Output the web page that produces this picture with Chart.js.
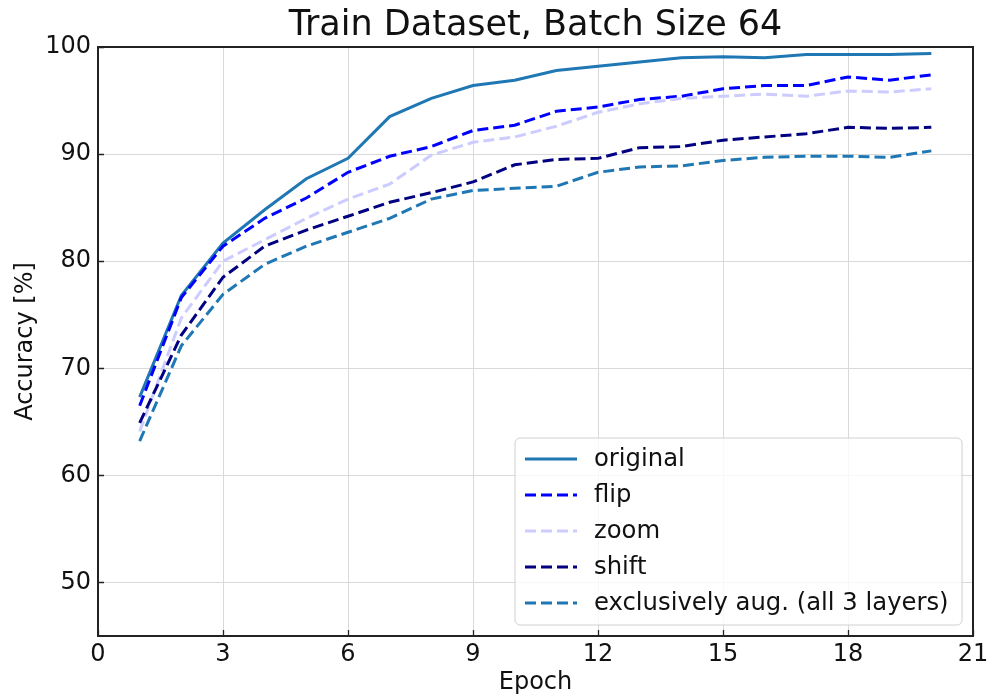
<!DOCTYPE html>
<html>
<head>
<meta charset="utf-8">
<script src="https://cdn.jsdelivr.net/npm/chart.js@4.4.1/dist/chart.umd.min.js"></script>
<style>
  html, body { margin: 0; padding: 0; background: #ffffff; }
  canvas { display: block; }
</style>
</head>
<body>
<canvas id="c" width="989" height="697"></canvas>
<script>
const epochs = [1,2,3,4,5,6,7,8,9,10,11,12,13,14,15,16,17,18,19,20];
const original  = [67.3, 76.8, 81.7, 84.8, 87.7, 89.6, 93.5, 95.2, 96.4, 96.9, 97.8, 98.2, 98.6, 99.0, 99.1, 99.0, 99.3, 99.3, 99.3, 99.4];
const flip      = [66.5, 76.6, 81.4, 84.0, 85.9, 88.3, 89.8, 90.7, 92.2, 92.7, 94.0, 94.4, 95.1, 95.4, 96.1, 96.4, 96.4, 97.2, 96.9, 97.4];
const zoom      = [64.1, 74.7, 80.0, 82.0, 84.0, 85.8, 87.2, 89.9, 91.1, 91.6, 92.6, 93.9, 94.7, 95.2, 95.4, 95.6, 95.4, 95.9, 95.8, 96.1];
const shift     = [64.9, 73.1, 78.5, 81.4, 82.9, 84.2, 85.5, 86.4, 87.4, 89.0, 89.5, 89.6, 90.6, 90.7, 91.3, 91.6, 91.9, 92.5, 92.4, 92.5];
const exclusive = [63.2, 72.1, 76.9, 79.7, 81.4, 82.7, 84.0, 85.8, 86.6, 86.8, 87.0, 88.3, 88.8, 88.9, 89.4, 89.7, 89.8, 89.8, 89.7, 90.3];
const seriesLabels = ["original", "flip", "zoom", "shift", "exclusively aug. (all 3 layers)"];
const xTicks = [0, 3, 6, 9, 12, 15, 18, 21];
const yTicks = [50, 60, 70, 80, 90, 100];

const FONT = "'DejaVu Sans', 'Liberation Sans', sans-serif";
const pts = arr => arr.map((v, i) => ({ x: epochs[i], y: v }));

const styles = [
  { color: "#1f77b4", dash: [] },
  { color: "#0000ff", dash: [11, 5] },
  { color: "#ccccff", dash: [11, 5] },
  { color: "#000080", dash: [11, 5] },
  { color: "#1f77b4", dash: [11, 5] }
];
const seriesData = [original, flip, zoom, shift, exclusive];

const datasets = seriesData.map((arr, i) => ({
  label: seriesLabels[i],
  data: pts(arr),
  borderColor: styles[i].color,
  backgroundColor: styles[i].color,
  borderDash: styles[i].dash,
  borderWidth: 3,
  pointRadius: 0,
  tension: 0,
  fill: false,
  order: seriesData.length - i
}));

const framePlugin = {
  id: "frame",
  afterDatasetsDraw(chart) {
    const ctx = chart.ctx;
    const a = chart.chartArea;
    const xs = chart.scales.x, ys = chart.scales.y;
    ctx.save();
    ctx.strokeStyle = "#222222";
    ctx.lineWidth = 1.3;
    ctx.beginPath();
    xs.ticks.forEach(t => {
      const px = Math.round(xs.getPixelForValue(t.value)) + 0.5;
      ctx.moveTo(px, a.bottom);
      ctx.lineTo(px, a.bottom - 6);
    });
    ys.ticks.forEach(t => {
      const py = Math.round(ys.getPixelForValue(t.value)) + 0.5;
      ctx.moveTo(a.left, py);
      ctx.lineTo(a.left + 6, py);
    });
    ctx.stroke();
    ctx.lineWidth = 2;
    ctx.strokeRect(a.left, a.top, a.right - a.left, a.bottom - a.top);

    // legend box
    const lx = 515, ly = 438, lw = 447, lh = 187, r = 5;
    ctx.beginPath();
    ctx.moveTo(lx + r, ly);
    ctx.lineTo(lx + lw - r, ly);
    ctx.arcTo(lx + lw, ly, lx + lw, ly + r, r);
    ctx.lineTo(lx + lw, ly + lh - r);
    ctx.arcTo(lx + lw, ly + lh, lx + lw - r, ly + lh, r);
    ctx.lineTo(lx + r, ly + lh);
    ctx.arcTo(lx, ly + lh, lx, ly + lh - r, r);
    ctx.lineTo(lx, ly + r);
    ctx.arcTo(lx, ly, lx + r, ly, r);
    ctx.closePath();
    ctx.fillStyle = "rgba(255,255,255,0.8)";
    ctx.fill();
    ctx.strokeStyle = "#d0d0d0";
    ctx.lineWidth = 1;
    ctx.stroke();

    chart.data.datasets.forEach((ds, i) => {
      const y = ly + 21 + i * 36;
      ctx.beginPath();
      ctx.setLineDash(ds.borderDash || []);
      ctx.strokeStyle = ds.borderColor;
      ctx.lineWidth = ds.borderWidth;
      ctx.moveTo(525, y);
      ctx.lineTo(577, y);
      ctx.stroke();
      ctx.setLineDash([]);
      ctx.fillStyle = "#111111";
      ctx.font = "24.3px " + FONT;
      ctx.textAlign = "left";
      ctx.textBaseline = "middle";
      ctx.fillText(ds.label, 594, y + 1);
    });
    ctx.restore();
  }
};

new Chart(document.getElementById("c"), {
  type: "line",
  data: { datasets },
  plugins: [framePlugin],
  options: {
    responsive: false,
    animation: false,
    devicePixelRatio: 1,
    layout: { padding: { left: 0, right: 16, top: 0, bottom: 0 } },
    plugins: {
      legend: { display: false },
      tooltip: { enabled: false },
      title: {
        display: true,
        fullSize: false,
        text: "Train Dataset, Batch Size 64",
        color: "#111111",
        font: { family: FONT, size: 35, weight: "normal" },
        padding: { top: 5, bottom: 0 }
      }
    },
    scales: {
      x: {
        type: "linear",
        min: 0, max: 21,
        afterBuildTicks: s => { s.ticks = xTicks.map(v => ({ value: v })); },
        afterFit: s => { s.height = 61; s.paddingLeft = 0; s.paddingRight = 0; },
        grid: { color: "#d9d9d9", lineWidth: 1, drawTicks: false },
        border: { display: false },
        ticks: { color: "#111111", font: { family: FONT, size: 24 }, padding: 4, maxRotation: 0, autoSkip: false },
        title: { display: true, text: "Epoch", color: "#111111", font: { family: FONT, size: 24 }, padding: { top: 0, bottom: 0 } }
      },
      y: {
        type: "linear",
        min: 45, max: 100,
        afterBuildTicks: s => { s.ticks = yTicks.map(v => ({ value: v })); },
        afterFit: s => { s.width = 98; s.paddingTop = 0; s.paddingBottom = 0; },
        grid: { color: "#d9d9d9", lineWidth: 1, drawTicks: false },
        border: { display: false },
        ticks: { color: "#111111", font: { family: FONT, size: 24 }, padding: 7, autoSkip: false },
        title: { display: true, text: "Accuracy [%]", color: "#111111", font: { family: FONT, size: 24 }, padding: { top: 11, bottom: 0 } }
      }
    }
  }
});
</script>
</body>
</html>
